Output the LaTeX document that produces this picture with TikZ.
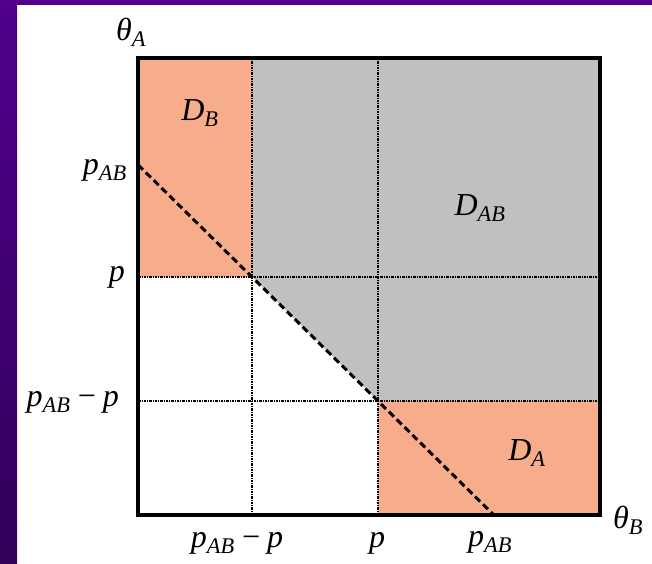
\documentclass[tikz,border=0pt]{standalone}
\usepackage{fontspec}
\setmainfont{Liberation Serif}
\usepackage{xcolor}
\usepackage{tikz}
\definecolor{bgtop}{RGB}{80,0,140}
\definecolor{bgbot}{RGB}{50,0,90}
\definecolor{salmon}{RGB}{247,172,140}
\definecolor{lgray}{RGB}{192,192,192}
\newcommand{\sbs}[1]{\textsubscript{#1}}

\begin{document}
\begin{tikzpicture}[x=1pt, y=1pt,
    frame/.style={line width=4.5pt},
    guide/.style={line width=1.8pt, dash pattern=on 2.5pt off 1pt on 1pt off 1pt},
    bound/.style={line width=3pt, dash pattern=on 7pt off 4pt},
    lbl/.style={font=\fontsize{32}{36}\selectfont\itshape, inner sep=1pt},
    reg/.style={font=\fontsize{32}{36}\selectfont\itshape, inner sep=1pt}]
    \useasboundingbox (0,0) rectangle (652,563);
    \fill[white] (0,0) rectangle (652,563);
    \shade[top color=bgtop, bottom color=bgbot] (0,0) rectangle (17,563);
    \fill[bgtop] (0,558) rectangle (652,563);
    \coordinate (sw) at (138,48);
    \coordinate (ne) at (600,505);
    \coordinate (a) at (252,286);
    \coordinate (b) at (378,162);
    \coordinate (pa) at (138,398.2);
    \coordinate (pb) at (493.8,48);
    \fill[salmon] (138,286) rectangle (252,505);
    \fill[lgray] (252,505) -- (600,505) -- (600,162) -- (b) -- (a) -- cycle;
    \fill[salmon] (378,48) rectangle (600,162);
    \draw[guide] (252,48) -- (252,505);
    \draw[guide] (378,48) -- (378,505);
    \draw[guide] (138,286) -- (600,286);
    \draw[guide] (138,162) -- (600,162);
    \draw[bound] (pa) -- (pb);
    \draw[frame] (sw) rectangle (ne);
    \node[lbl] (thA) at (131,531) {θ\sbs{A}};
    \node[lbl, anchor=east] (pABy) at (128,393) {p\sbs{AB}};
    \node[lbl, anchor=east] (py) at (126,286) {p};
    \node[lbl, anchor=east] (pdy) at (120,161) {p\sbs{AB}\,−\,p};
    \node[lbl] (pdx) at (237,20) {p\sbs{AB}\,−\,p};
    \node[lbl] (px) at (377,20) {p};
    \node[lbl] (pABx) at (490,21) {p\sbs{AB}};
    \node[lbl] (thB) at (628,43) {θ\sbs{B}};
    \node[reg] (DB) at (200,450) {D\sbs{B}};
    \node[reg] (DAB) at (480,355) {D\sbs{AB}};
    \node[reg] (DA) at (527,110) {D\sbs{A}};
  \end{tikzpicture}
\end{document}
